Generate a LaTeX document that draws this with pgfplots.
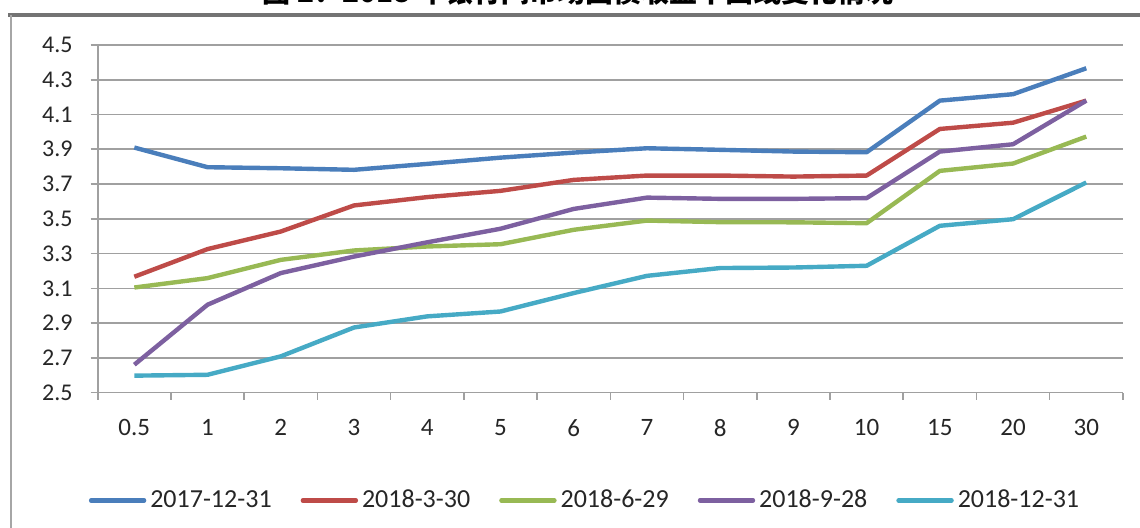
\documentclass[border=0pt]{standalone}
\usepackage{fontspec}
\setmainfont{Carlito}
\newfontfamily\cjk{Noto Sans CJK SC}
\usepackage{pgfplots}
\usepackage{pgfplotstable}
\pgfplotsset{compat=1.18}
\definecolor{s1}{HTML}{4A7EBB}
\definecolor{s2}{HTML}{BE4B48}
\definecolor{s3}{HTML}{98B954}
\definecolor{s4}{HTML}{7D60A0}
\definecolor{s5}{HTML}{46AAC5}
\definecolor{gridc}{HTML}{A0A0A0}
\pgfplotstableread{
x a b c d e
0 3.910 3.167 3.105 2.661 2.598
1 3.797 3.326 3.159 3.006 2.603
2 3.791 3.427 3.264 3.188 2.709
3 3.782 3.577 3.318 3.283 2.875
4 3.816 3.625 3.341 3.365 2.939
5 3.852 3.661 3.354 3.443 2.967
6 3.881 3.724 3.437 3.557 3.073
7 3.906 3.749 3.490 3.622 3.172
8 3.897 3.749 3.481 3.615 3.217
9 3.887 3.743 3.480 3.615 3.220
10 3.883 3.749 3.475 3.619 3.230
11 4.180 4.017 3.776 3.887 3.460
12 4.217 4.053 3.818 3.929 3.498
13 4.366 4.180 3.973 4.180 3.709
}\yields
\begin{document}
\begin{tikzpicture}
\begin{axis}[
  at={(48.85pt,67.65pt)}, anchor=south west,
  scale only axis, width=512.6pt, height=173.85pt,
  xmin=-0.5, xmax=13.5, ymin=2.5, ymax=4.5,
  axis lines*=left,
  axis line style={gridc, line width=0.8pt},
  tick align=outside,
  major tick length=3.5pt,
  tick style={gridc, line width=0.8pt},
  xtick={-0.5,0.5,1.5,2.5,3.5,4.5,5.5,6.5,7.5,8.5,9.5,10.5,11.5,12.5,13.5},
  xticklabels={},
  extra x ticks={0,1,2,3,4,5,6,7,8,9,10,11,12,13},
  extra x tick labels={0.5,1,2,3,4,5,6,7,8,9,10,15,20,30},
  extra x tick style={major tick length=0pt, grid=none,
     xticklabel style={anchor=north, yshift=-10pt, font=\fontsize{12.5pt}{14pt}\selectfont}},
  ytick={2.5,2.7,2.9,3.1,3.3,3.5,3.7,3.9,4.1,4.3,4.5},
  yticklabel style={/pgf/number format/.cd, fixed, fixed zerofill, precision=1, /tikz/.cd, xshift=-5.5pt},
  /pgf/number format/assume math mode=true,
  ymajorgrids,
  grid style={gridc, line width=0.8pt},
  ticklabel style={font=\fontsize{12pt}{14pt}\selectfont, text=black!85},
  clip=false,
  legend columns=5,
  legend style={at={(axis description cs:0.4763,-0.3098)}, anchor=center, draw=none,
     font=\fontsize{13pt}{15pt}\selectfont, text=black!85,
     /tikz/every even column/.append style={column sep=12.5pt},
     inner sep=0pt},
  legend image code/.code={\draw[#1, line cap=round] (0pt,0pt) -- (26.5pt,0pt);},
  every axis plot/.append style={line width=2.2pt, line join=round},
]
\addplot[s1] table[x=x,y=a]{\yields};
\addlegendentry{2017-12-31}
\addplot[s2] table[x=x,y=b]{\yields};
\addlegendentry{2018-3-30}
\addplot[s3] table[x=x,y=c]{\yields};
\addlegendentry{2018-6-29}
\addplot[s4] table[x=x,y=d]{\yields};
\addlegendentry{2018-9-28}
\addplot[s5] table[x=x,y=e]{\yields};
\addlegendentry{2018-12-31}
\end{axis}
\draw[line width=2pt, black!55] (4pt,256.4pt) -- (575pt,256.4pt);
\draw[line width=1pt, black!35] (5.6pt,-5pt) -- (5.6pt,256.4pt);
\node[anchor=base, font=\cjk\bfseries\fontsize{14pt}{16pt}\selectfont] at (289pt,262.5pt) {图 2：2018 年银行间市场国债收益率曲线变化情况};
\pgfresetboundingbox
\path[use as bounding box] (0pt,0pt) rectangle (570pt,264pt);
\end{tikzpicture}
\end{document}
